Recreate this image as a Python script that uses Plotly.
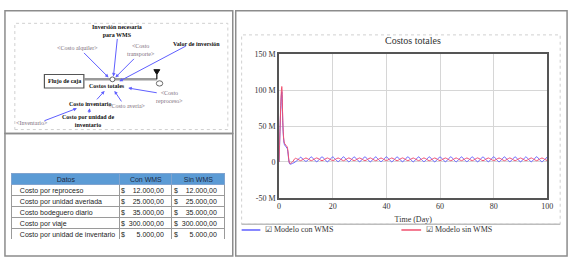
import plotly.graph_objects as go

W, H = 578, 263

# --------------------------------------------------------------------------- #
# Data
# --------------------------------------------------------------------------- #
days = list(range(101))

# Costos totales (millones) - Modelo con WMS
con_wms = [
    0, 98, 24, 19, -3, -2, 0, 3, 6.5, 3.5,
    0.8, 3.5, 7, 3.5, 0.3, 3.5, 7.2, 3.5, 0.2, 3.5,
    7, 3.5, 0.4, 3.5, 7.1, 3.5, 0.2, 3.5, 7, 3.5,
    0.3, 3.5, 7.2, 3.5, 0.2, 3.5, 7, 3.5, 0.4, 3.5,
    7.1, 3.5, 0.2, 3.5, 7, 3.5, 0.3, 3.5, 7.2, 3.5,
    0.2, 3.5, 7, 3.5, 0.4, 3.5, 7.1, 3.5, 0.2, 3.5,
    7, 3.5, 0.3, 3.5, 7.2, 3.5, 0.2, 3.5, 7, 3.5,
    0.4, 3.5, 7.1, 3.5, 0.2, 3.5, 7, 3.5, 0.3, 3.5,
    7.2, 3.5, 0.2, 3.5, 7, 3.5, 0.4, 3.5, 7.1, 3.5,
    0.2, 3.5, 7, 3.5, 0.3, 3.5, 7.2, 3.5, 0.2, 3.5,
    6.8,
]

# Costos totales (millones) - Modelo sin WMS
sin_wms = [
    0, 105, 26, 21, -2, 0, 5, 3.6, 1.8, 3.6,
    5.5, 3.6, 1.8, 3.6, 5.6, 3.6, 1.7, 3.6, 5.5, 3.6,
    1.8, 3.6, 5.5, 3.6, 1.7, 3.6, 5.6, 3.6, 1.8, 3.6,
    5.5, 3.6, 1.8, 3.6, 5.6, 3.6, 1.7, 3.6, 5.5, 3.6,
    1.8, 3.6, 5.5, 3.6, 1.7, 3.6, 5.6, 3.6, 1.8, 3.6,
    5.5, 3.6, 1.8, 3.6, 5.6, 3.6, 1.7, 3.6, 5.5, 3.6,
    1.8, 3.6, 5.5, 3.6, 1.7, 3.6, 5.6, 3.6, 1.8, 3.6,
    5.5, 3.6, 1.8, 3.6, 5.6, 3.6, 1.7, 3.6, 5.5, 3.6,
    1.8, 3.6, 5.5, 3.6, 1.7, 3.6, 5.6, 3.6, 1.8, 3.6,
    5.5, 3.6, 1.8, 3.6, 5.6, 3.6, 1.7, 3.6, 5.5, 3.6,
    1.8,
]

y_ticks = [-50, 0, 50, 100, 150]
y_tick_text = ["-50 M", "0", "50 M", "100 M", "150 M"]
x_ticks = [0, 20, 40, 60, 80, 100]

table_header = ["Datos", "Con WMS", "Sin WMS"]
table_items = [
    "Costo por reproceso",
    "Costo por unidad averiada",
    "Costo bodeguero diario",
    "Costo por viaje",
    "Costo por unidad de inventario",
]
table_con = [12000, 25000, 35000, 300000, 5000]
table_sin = [12000, 25000, 35000, 300000, 5000]

BLUE = "#5f5fff"
RED = "#f0506e"
SERIF = "Liberation Serif"
SANS = "Liberation Sans"
NBSP = "\u00a0"


def px(x):
    return x / W


def py(y):
    return 1 - y / H


def nowrap(s):
    # non-breaking spaces keep plotly's table from wrapping / growing rows
    return s.replace(" ", NBSP)


def money(v):
    s = f"{v:,.2f}".replace(",", "_").replace(".", ",").replace("_", ".")
    digits = sum(ch.isdigit() for ch in s)
    return "$" + NBSP * (2 + 2 * (8 - digits)) + s


fig = go.Figure()

fig.add_trace(go.Scatter(
    x=days, y=con_wms, mode="lines", name="Modelo con WMS",
    line=dict(color=BLUE, width=1, shape="spline", smoothing=0.8),
))
fig.add_trace(go.Scatter(
    x=days, y=sin_wms, mode="lines", name="Modelo sin WMS",
    line=dict(color=RED, width=1, shape="spline", smoothing=0.8),
))

# table: grid/fills layer, then a text layer lifted a few px (plotly pads cell text 8px from the top)
TBL_TOP, ROW_H, LIFT = 175, 11, 4.5
col_w = [110, 53, 54]
n_rows = len(table_items)
fig.add_trace(go.Table(
    domain=dict(x=[px(10), px(227)], y=[py(TBL_TOP + ROW_H * (n_rows + 1) + 3), py(TBL_TOP)]),
    columnwidth=col_w,
    header=dict(values=[""] * 3, height=ROW_H, fill_color="#5b9bd5",
                line=dict(color="#7fa3cf", width=1)),
    cells=dict(values=[[""] * n_rows] * 3, height=ROW_H, fill_color="white",
               line=dict(color="#9a9a9a", width=1)),
))
fig.add_trace(go.Table(
    domain=dict(x=[px(10), px(227)], y=[py(TBL_TOP + ROW_H * (n_rows + 1) + 12), py(TBL_TOP - LIFT)]),
    columnwidth=col_w,
    header=dict(
        values=[nowrap(h) for h in table_header], height=ROW_H, align="center",
        fill_color="rgba(0,0,0,0)", line=dict(color="rgba(0,0,0,0)", width=0),
        font=dict(family=SANS, size=7, color="#1c2b45"),
    ),
    cells=dict(
        values=[[nowrap(t) for t in table_items],
                [money(v) for v in table_con],
                [money(v) for v in table_sin]],
        height=ROW_H, align=["left", "right", "right"],
        fill_color="rgba(0,0,0,0)", line=dict(color="rgba(0,0,0,0)", width=0),
        font=dict(family=SANS, size=7, color="#222"),
    ),
))

shapes = []


def rect(x0, y0, x1, y1, color="#8c8c8c", width=1.5, dash="solid"):
    shapes.append(dict(type="rect", xref="paper", yref="paper",
                       x0=px(x0), y0=py(y1), x1=px(x1), y1=py(y0),
                       line=dict(color=color, width=width, dash=dash)))


def seg(x0, y0, x1, y1, color, width=1.0, dash="solid"):
    shapes.append(dict(type="line", xref="paper", yref="paper",
                       x0=px(x0), y0=py(y0), x1=px(x1), y1=py(y1),
                       line=dict(color=color, width=width, dash=dash)))


# panel frames
rect(3, 7, 234, 134)
rect(3, 134, 234, 261)
rect(237, 7, 573, 261)
rect(13, 20, 229, 130, color="#d0d0d0", width=1, dash="dot")
rect(243, 32, 566, 228, color="#d0d0d0", width=1, dash="dot")

# legend
seg(243, 228, 566, 228, "#bdbdbd", 1.5)
seg(243, 234, 262, 234, BLUE, 1.5)
seg(405, 234, 425, 234, RED, 1.5)

# stock & flow
rect(43, 73, 83, 87, color="#555", width=1.2)
seg(83, 78, 157, 78, "#9a9a9a", 2.5)
shapes.append(dict(type="path", xref="paper", yref="paper",
                   path=f"M{px(154)},{py(68)} L{px(160)},{py(68)} L{px(157)},{py(73)} Z",
                   fillcolor="#111", line=dict(color="#111", width=1)))
seg(157, 73, 157, 78, "#111", 1.2)
shapes.append(dict(type="circle", xref="paper", yref="paper",
                   x0=px(156.5), y0=py(85), x1=px(163), y1=py(79.5),
                   line=dict(color="#666", width=1)))
shapes.append(dict(type="circle", xref="paper", yref="paper",
                   x0=px(109.5), y0=py(80.5), x1=px(114.5), y1=py(75.5),
                   line=dict(color="#666", width=1), fillcolor="white"))

annotations = []


def label(x, y, text, bold=True, color="#111", size=6, font=SERIF, anchor="center"):
    if bold:
        text = f"<b>{text}</b>"
    annotations.append(dict(x=px(x), y=py(y), xref="paper", yref="paper", text=text,
                            showarrow=False, xanchor=anchor, yanchor="middle",
                            font=dict(family=font, size=size, color=color)))


def arrow(tx, ty, hx, hy):
    annotations.append(dict(x=px(hx), y=py(hy), xref="paper", yref="paper", text="",
                            showarrow=True, ax=tx - hx, ay=ty - hy,
                            arrowhead=2, arrowsize=0.7, arrowwidth=1, arrowcolor=BLUE))


GRAY = "#7d6f7d"
label(117, 28, "Inversión necesaria<br>para WMS")
label(77, 46, "&lt;Costo alquiler&gt;", bold=False, color=GRAY)
label(141, 48, "&lt;Costo<br>transporte&gt;", bold=False, color=GRAY)
label(197, 41, "Valor de inversión")
label(63, 80, "Flujo de caja")
label(106, 85, "Costos totales")
label(170, 96, "&lt;Costo<br>reproceso&gt;", bold=False, color=GRAY)
label(90, 104, "Costo inventario")
label(127, 106, "&lt;Costo avería&gt;", bold=False, color=GRAY)
label(87, 121, "Costo por unidad de<br>inventario")
label(30, 123, "&lt;Inventario&gt;", bold=False, color=GRAY)

arrow(117, 36, 113, 75)
arrow(82, 50, 108, 76)
arrow(135, 56, 115, 76)
arrow(187, 44, 119, 80)
arrow(158, 92, 128, 87)
arrow(122, 102, 114, 90)
arrow(95, 100, 104, 90)
arrow(42, 121, 76, 108)
arrow(88, 114, 89, 108)

# chart title and legend text
label(417, 38, "Costos totales", bold=False, color="#333", size=10)
label(265, 234, "☑ Modelo con WMS", bold=False, color="#333", size=8, anchor="left")
label(428, 234, "☑ Modelo sin WMS", bold=False, color="#333", size=8, anchor="left")

axis_common = dict(
    showgrid=True, gridcolor="#d6d6d6", gridwidth=1, zeroline=False,
    showline=True, linecolor="#555", linewidth=2, mirror=True,
    ticks="", tickfont=dict(family=SERIF, size=8, color="#333"),
)

fig.update_layout(
    width=W, height=H,
    margin=dict(l=0, r=0, t=0, b=0),
    paper_bgcolor="white", plot_bgcolor="white",
    showlegend=False,
    shapes=shapes, annotations=annotations,
    xaxis=dict(domain=[px(281), px(553)], range=[0, 100], tickvals=x_ticks,
               title=dict(text="Time (Day)", font=dict(family=SERIF, size=8, color="#333"), standoff=6),
               **axis_common),
    yaxis=dict(domain=[py(200.7), py(52)], range=[-50, 150], tickvals=y_ticks,
               ticktext=y_tick_text, **axis_common),
)

# drop the browser's default 8px body margin so the figure sits at the page origin
fig.write_html("out.html", config={"displayModeBar": False},
               post_script="document.body.style.margin='0';")
